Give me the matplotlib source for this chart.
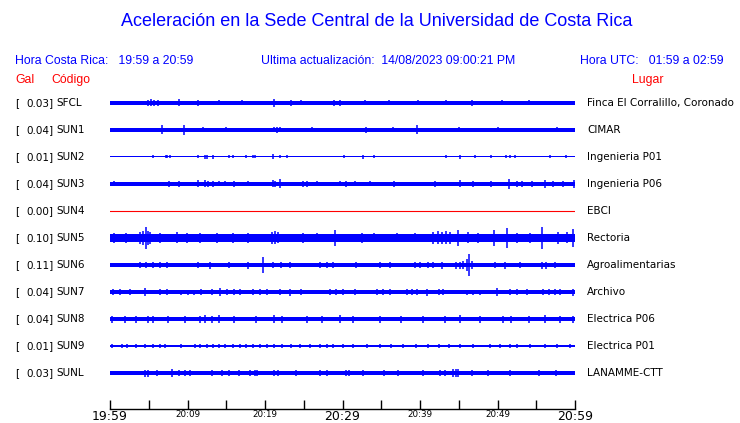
import matplotlib
matplotlib.use("Agg")
import matplotlib.pyplot as plt
import matplotlib.transforms as mtransforms

# ---------------- data ----------------
codes = ["SFCL", "SUN1", "SUN2", "SUN3", "SUN4", "SUN5", "SUN6", "SUN7", "SUN8", "SUN9", "SUNL"]
gal = ["0.03", "0.04", "0.01", "0.04", "0.00", "0.10", "0.11", "0.04", "0.04", "0.01", "0.03"]
places = ["Finca El Corralillo, Coronado", "CIMAR", "Ingenieria P01", "Ingenieria P06", "EBCI",
          "Rectoria", "Agroalimentarias", "Archivo", "Electrica P06", "Electrica P01", "LANAMME-CTT"]

# base half-thickness of each trace (pixels)
base_half = [1.7, 1.7, 0.5, 2.0, 0.5, 4.0, 1.6, 2.0, 2.4, 0.9, 2.2]

# spike events: minutes after 19:59 and half amplitude (pixels)
sfcl_t = [4.9, 5.3, 5.7, 6.2, 8.9, 11.4, 14.0, 17.0, 21.1, 23.4, 24.6, 28.9, 29.7, 32.9, 36.0, 39.7, 43.4, 46.7, 50.6, 54.0]
sfcl_a = [3, 3.5, 3, 3, 3.5, 3, 2.5, 2.5, 4, 3, 2.5, 3, 3, 2.5, 2.5, 2.5, 2.5, 3, 2.5, 2.5]
sun1_t = [6.7, 9.6, 12.0, 15.0, 21.1, 21.5, 21.9, 26.0, 33.0, 36.5, 39.6, 45.0, 50.0, 57.7]
sun1_a = [4.5, 5, 2.5, 2.5, 2.5, 3, 2.5, 2.5, 3, 2.5, 4.5, 2.5, 2.5, 2.5]
sun2_t = [5.5, 7.2, 7.4, 7.7, 11.4, 12.2, 12.5, 13.3, 15.3, 15.9, 17.6, 18.5, 18.7, 21.0, 21.9, 22.9, 30.2,
          32.6, 34.0, 43.3, 45.2, 47.1, 49.2, 51.1, 51.6, 52.3, 56.8, 58.8]
sun2_a = [1.5, 1.5, 1.5, 1.5, 1.5, 2, 2, 2, 1.5, 1.5, 1.5, 1.5, 1.5, 2.5, 1.5, 1.5, 1.5,
          2, 1.5, 1.5, 2, 1.5, 1.5, 1.5, 1.5, 1.5, 1.5, 1.5]
sun3_t = [0.5, 7.6, 8.9, 11.3, 12.2, 12.6, 13.3, 14.0, 14.8, 16.0, 17.8, 21.0, 21.3, 21.9, 24.9, 25.4, 26.7,
          29.7, 30.4, 31.6, 33.5, 36.6, 41.9, 45.2, 46.9, 49.2, 51.5, 52.5, 53.2, 54.4, 56.1, 57.2, 58.4, 59.9]
sun3_a = [2.5, 3, 3, 3.5, 3.5, 3, 3, 2.5, 2.5, 3, 2.5, 3.5, 3, 4.5, 3, 3, 2.5,
          2.5, 3, 2.5, 2.5, 3, 3, 3.5, 3, 3, 5, 3, 3, 3, 4, 3, 3, 4]
sun4_t = []
sun4_a = []
sun5_t = [0.5, 2.0, 3.9, 4.3, 4.6, 4.9, 5.2, 6.5, 8.6, 9.9, 11.6, 13.8, 15.9, 17.8, 20.9, 21.3, 21.7, 24.9,
          26.7, 29.0, 32.5, 34.0, 37.0, 39.4, 41.7, 42.3, 42.9, 43.4, 43.9, 44.9, 46.2, 47.5, 49.5, 51.2,
          52.5, 54.2, 55.8, 57.8, 59.0, 59.8]
sun5_a = [5, 5, 6, 7, 11, 7, 6, 5, 5.5, 5, 5, 5, 5, 5, 6, 6.5, 5.5, 5,
          4.5, 8, 5, 4.5, 4.5, 4.5, 6, 6.5, 6, 6.5, 6, 8, 5.5, 5, 8, 10,
          5, 5, 11, 6, 5.5, 9]
sun6_t = [3.9, 4.7, 5.6, 6.5, 7.3, 11.4, 12.9, 15.3, 17.8, 19.7, 21.0, 22.0, 23.2, 27.1, 28.0, 28.8, 31.8,
          34.8, 36.1, 39.4, 40.0, 41.0, 41.7, 42.8, 44.6, 45.2, 45.6, 46.0, 46.3, 46.7, 49.7, 51.0, 52.9,
          55.7, 56.3, 57.4]
sun6_a = [2.7, 2.7, 3, 2.7, 2.7, 2.7, 3.5, 3, 3.5, 8, 2.7, 2.7, 2.7, 2.7, 2.7, 2.7, 2.7,
          2.7, 2.7, 3, 2.7, 2.7, 2.7, 3.5, 3.5, 3.5, 4, 6, 11, 4, 2.7, 3.5, 2.7,
          3.5, 3.5, 2.7]
sun7_t = [0.4, 1.3, 2.6, 4.5, 6.5, 7.3, 9.2, 10.0, 10.8, 11.8, 13.1, 14.2, 15.1, 16.0, 16.8, 18.5, 19.3,
          20.2, 21.9, 23.2, 24.7, 28.4, 29.2, 30.1, 31.6, 34.4, 35.2, 36.1, 38.3, 39.0, 39.6, 40.9, 42.4,
          43.0, 46.0, 46.8, 47.7, 49.9, 51.6, 52.5, 53.8, 55.9, 56.6, 57.4, 58.1, 59.8]
sun7_a = [3, 3, 3, 4, 3, 3, 2.5, 2.5, 2.5, 3, 3, 4, 3, 3, 3, 3, 3,
          3, 3, 3.5, 3, 3, 3, 3, 3, 3, 3, 3, 3, 3, 3, 3.5, 3,
          3, 2.5, 2.5, 2.5, 4, 3, 3, 3, 3, 3, 3, 3, 3.5]
sun8_t = [0.2, 1.9, 3.4, 4.9, 5.6, 7.5, 9.7, 11.6, 12.3, 13.2, 14.0, 16.0, 18.9, 21.1, 22.2, 25.4, 27.3,
          29.7, 31.4, 34.8, 37.6, 40.4, 43.2, 45.2, 47.7, 50.7, 51.8, 54.0, 56.1, 58.0, 59.8]
sun8_a = [3.5, 3.5, 3.5, 3.5, 3.5, 3.5, 3.5, 3.5, 4, 3.5, 4, 3.5, 3.5, 4, 3.5, 3.5, 3.5,
          4, 3.5, 3.5, 3.5, 3.5, 3.5, 4, 3.5, 3.5, 3.5, 3.5, 4, 3.5, 3.5]
sun9_t = [0.2, 1.5, 2.2, 3.4, 4.5, 5.6, 6.5, 7.1, 9.1, 11.0, 11.6, 12.5, 13.3, 14.0, 14.8, 15.9, 16.8,
          17.6, 18.5, 19.4, 20.2, 21.1, 22.2, 23.4, 24.5, 25.8, 27.1, 28.0, 28.8, 30.1, 31.4, 33.1, 34.8,
          36.3, 37.8, 39.5, 41.0, 42.5, 43.8, 45.2, 46.9, 49.0, 50.3, 51.6, 52.5, 54.2, 56.1, 57.7, 59.4]
sun9_a = [2] * 49
sunl_t = [4.5, 4.9, 6.0, 8.0, 8.9, 9.7, 10.3, 13.1, 14.4, 15.3, 16.7, 18.0, 18.7, 19.0, 21.1, 21.7, 24.0,
          27.1, 28.0, 30.5, 30.8, 32.7, 35.3, 37.2, 40.4, 42.6, 43.2, 44.3, 44.6, 44.9, 46.7, 48.8, 51.6,
          55.3, 57.6]
sunl_a = [3.5, 3.5, 3, 4.5, 3, 3, 3, 3, 3, 3, 3, 3, 3, 3, 3, 3, 3,
          3, 3, 3, 3, 3, 3, 3, 3, 3, 3, 4, 4.5, 4, 3, 3, 3,
          3, 3]

event_t = [sfcl_t, sun1_t, sun2_t, sun3_t, sun4_t, sun5_t, sun6_t, sun7_t, sun8_t, sun9_t, sunl_t]
event_a = [sfcl_a, sun1_a, sun2_a, sun3_a, sun4_a, sun5_a, sun6_a, sun7_a, sun8_a, sun9_a, sunl_a]
trace_colors = ["blue"] * 4 + ["red"] + ["blue"] * 6

tick_minutes = [0, 10, 20, 30, 40, 50, 60]
tick_labels = ["19:59", "20:09", "20:19", "20:29", "20:39", "20:49", "20:59"]
big_labels = ["19:59", "20:29", "20:59"]
minor_minutes = [5, 15, 25, 35, 45, 55]

title = "Aceleración en la Sede Central de la Universidad de Costa Rica"
hdr_left = "Hora Costa Rica:   19:59 a 20:59"
hdr_mid = "Ultima actualización:  14/08/2023 09:00:21 PM"
hdr_right = "Hora UTC:   01:59 a 02:59"

# ---------------- layout ----------------
W, H = 740, 423
fig = plt.figure(figsize=(W / 100, H / 100), dpi=100)
fig.patch.set_facecolor("white")

def fx(px):
    return px / W

def fy(py):
    return 1 - py / H

row0, spacing = 103, 27   # pixel y of first row and row spacing
ax_top, ax_bot = 90, 409
ax = fig.add_axes([fx(110), fy(ax_bot), fx(575) - fx(110), fy(ax_top) - fy(ax_bot)])
ax.set_xlim(0, 60)
ax.set_ylim((ax_bot - row0) / spacing, (ax_top - row0) / spacing)

px = 1.0 / spacing
for i in range(len(codes)):
    c = trace_colors[i]
    h = base_half[i] * px
    if codes[i] == "SUN4":
        ax.plot([0, 60], [i, i], color=c, lw=0.8)
    else:
        ax.fill_between([0, 60], [i - h, i - h], [i + h, i + h], color=c, lw=0)
        if event_t[i]:
            amps = [a * px for a in event_a[i]]
            ax.vlines(event_t[i], [i - a for a in amps], [i + a for a in amps], color=c, lw=1.1)

for s in ["top", "left", "right"]:
    ax.spines[s].set_visible(False)
ax.spines["bottom"].set_color("black")
ax.spines["bottom"].set_linewidth(1.0)
ax.set_yticks([])
ax.set_xticks(tick_minutes)
ax.set_xticklabels(tick_labels)
ax.set_xticks(minor_minutes, minor=True)
ax.tick_params(axis="x", which="both", direction="in", length=6.3, width=1, color="black", pad=0.5)
for lab in ax.get_xticklabels():
    if lab.get_text() in big_labels:
        lab.set_fontsize(9)
    else:
        lab.set_fontsize(6.3)
    lab.set_family("DejaVu Sans")

# ---------------- texts ----------------
hfont = "Liberation Sans"
fig.text(fx(377), fy(22), title, color="blue", fontsize=13, family=hfont, ha="center", va="center")
fig.text(fx(15), fy(61), hdr_left, color="blue", fontsize=8.8, family=hfont, ha="left", va="center")
fig.text(fx(261), fy(61), hdr_mid, color="blue", fontsize=8.8, family=hfont, ha="left", va="center")
fig.text(fx(724), fy(61), hdr_right, color="blue", fontsize=8.8, family=hfont, ha="right", va="center")
fig.text(fx(15), fy(80), "Gal", color="red", fontsize=8.8, family=hfont, ha="left", va="center")
fig.text(fx(51), fy(80), "Código", color="red", fontsize=8.8, family=hfont, ha="left", va="center")
fig.text(fx(632), fy(80), "Lugar", color="red", fontsize=8.8, family=hfont, ha="left", va="center")

tr = mtransforms.blended_transform_factory(fig.transFigure, ax.transData)
for i in range(len(codes)):
    ax.text(fx(15), i, "[", transform=tr, fontsize=7.5, family="DejaVu Sans", ha="left", va="center", clip_on=False)
    ax.text(fx(53.5), i, gal[i] + "]", transform=tr, fontsize=7.5, family="DejaVu Sans", ha="right", va="center", clip_on=False)
    ax.text(fx(56), i, codes[i], transform=tr, fontsize=7.5, family="DejaVu Sans", ha="left", va="center", clip_on=False)
    ax.text(fx(587), i, places[i], transform=tr, fontsize=7.5, family="DejaVu Sans", ha="left", va="center", clip_on=False)

fig.savefig("out.png", dpi=100, facecolor="white")
